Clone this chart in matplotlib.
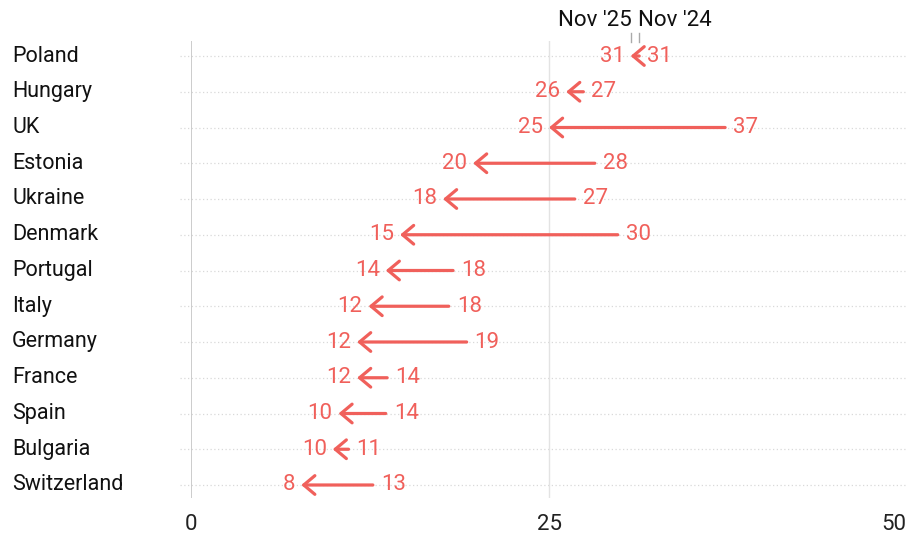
import matplotlib
matplotlib.use("Agg")
import matplotlib.pyplot as plt
from matplotlib.transforms import blended_transform_factory

countries = ["Poland", "Hungary", "UK", "Estonia", "Ukraine", "Denmark", "Portugal",
             "Italy", "Germany", "France", "Spain", "Bulgaria", "Switzerland"]
nov25 = [30.7, 26.2, 25.0, 19.7, 17.6, 14.6, 13.6, 12.4, 11.6, 11.6, 10.3, 9.9, 7.7]
nov24 = [31.3, 27.4, 37.3, 28.2, 26.8, 29.8, 18.3, 18.0, 19.25, 13.7, 13.6, 11.0, 12.7]
xticks = [0, 25, 50]
header_labels = ["Nov '25", "Nov '24"]

RED = "#f0605b"
FONT = "Roboto"

W, H = 907, 539
fig = plt.figure(figsize=(W / 100, H / 100), dpi=100)
left_px, right_px, top_px, bot_px = 191, 907, 41, 498
ax = fig.add_axes([left_px / W, 1 - bot_px / H, (right_px - left_px) / W, (bot_px - top_px) / H])
n = len(countries)
row0, step = 56, 35.75
ax.set_xlim(0, 50)
ax.set_ylim((bot_px - row0) / step, (top_px - row0) / step)
ax.axis("off")

# gridlines
for i in range(n):
    ax.plot([-0.75, 50], [i, i], ls=(0, (1, 2)), color="#d9d9d9", lw=0.9, clip_on=False, zorder=1)
ax.axvline(0, color="#c8c8c8", lw=1.3, zorder=1)
ax.axvline(25, color="#e3e3e3", lw=1.0, zorder=1)

trans_x = blended_transform_factory(ax.transData, ax.transAxes)
for t in xticks:
    ha = "right" if t == xticks[-1] else "center"
    dx = 0 if t != xticks[-1] else -0.02
    ax.text(t + dx, -(525 - bot_px) / (bot_px - top_px), f"{t}", transform=trans_x, ha=ha, va="center",
            fontsize=16, family=FONT, color="#222222")

for i, (c, a, b) in enumerate(zip(countries, nov25, nov24)):
    fig.text(12 / W, 1 - (row0 + step * i) / H, c, ha="left", va="center", fontsize=15.5,
             family=FONT, color="#111111")
    ax.annotate("", xy=(a, i), xytext=(b, i),
                arrowprops=dict(arrowstyle="->,head_length=0.5,head_width=0.42", color=RED,
                                lw=2.3, shrinkA=0, shrinkB=0, mutation_scale=16), zorder=3)
    ax.annotate(f"{a:.0f}", xy=(a, i), xytext=(-6, 0), textcoords="offset pixels",
                ha="right", va="center", fontsize=16, family=FONT, color=RED, zorder=4)
    ax.annotate(f"{b:.0f}", xy=(b, i), xytext=(8, 0), textcoords="offset pixels",
                ha="left", va="center", fontsize=16, family=FONT, color=RED, zorder=4)

# header
hy = (20 - row0) / step
for v, lab, ha, dx in [(nov25[0], header_labels[0], "right", 1), (nov24[0], header_labels[1], "left", -1)]:
    ax.plot([v, v], [(33 - row0) / step, (42 - row0) / step], color="#aaaaaa", lw=1, clip_on=False)
    ax.annotate(lab, xy=(v, hy), xytext=(dx, 0), textcoords="offset pixels", ha=ha, va="center",
                fontsize=16, family=FONT, color="#111111", annotation_clip=False)

fig.savefig("out.png", dpi=100)
